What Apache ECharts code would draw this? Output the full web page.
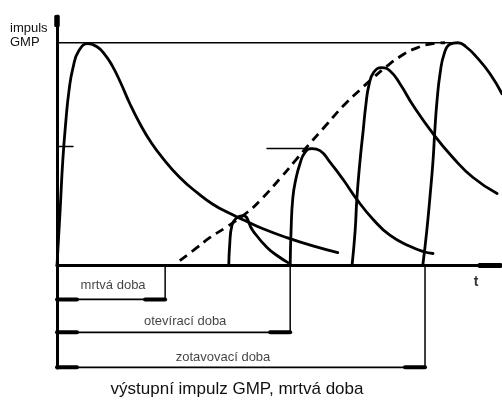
<!DOCTYPE html>
<html><head><meta charset="utf-8">
<script src="https://cdn.jsdelivr.net/npm/echarts@6/dist/echarts.min.js"></script>
<style>html,body{margin:0;padding:0;background:#fff}#c{width:502px;height:407px}</style>
</head><body><div id="c"></div>
<script>
// time t: 0..100 (relative units), amplitude: 0..100 (100 = full GMP pulse height)
const pulse1 = [[0,0],[0.7,24.7],[1.3,47.1],[2.0,65],[2.7,78.5],[3.6,88.8],[4.9,96.4],[7.0,99.6],[9.0,98.2],[10.8,94.6],[12.4,89.7],[14.2,82.5],[16.4,72.5],[18.7,63.4],[20.9,56.0],[23.8,48.1],[27.6,39.5],[31.5,32.7],[35.1,27.4],[38.9,23.3],[42.2,20.2],[46.3,16.5],[51.7,12.5],[57.5,8.8],[63.1,5.8]];
const pulse2 = [[38.6,0],[38.8,9.0],[39.3,18.0],[40.2,21.1],[41.8,22.4],[44.0,15.7],[47.2,8.1],[50.1,3.6],[51.9,1.3]];
const pulse3 = [[52.4,0],[52.6,15.7],[53.0,30.5],[53.7,39.0],[54.6,45.7],[55.7,50.7],[57.3,52.5],[59.1,51.6],[61.3,46.5],[64.3,38.6],[67.4,29.6],[71.0,20.8],[74.8,13.6],[79.3,8.6],[82.2,6.3],[84.5,5.4]];
const pulse4 = [[66.3,0],[67.0,15.7],[67.4,30.5],[68.1,47.1],[68.8,60.5],[69.4,72.0],[70.1,81.0],[71.2,86.8],[73.0,88.8],[74.8,87.4],[77.1,81.5],[80.0,71.9],[84.5,59.2],[89.0,48.4],[93.5,39.5],[98.9,32.3]];
const pulse5 = [[82.2,0],[83.1,15.7],[83.8,30.5],[84.5,47.1],[84.9,60.5],[85.4,74.0],[86.1,86.4],[87.0,95.0],[88.3,99.3],[90.1,100],[91.9,98.2],[94.4,93.3],[97.3,86.1],[100,77.1]];
const recovery = [[27.6,2.2],[31.5,8.1],[34.4,12.6],[38.2,17.4],[42.7,23.8],[45.6,29.1],[50.1,39.0],[53.5,47.0],[56.4,53.8],[60.7,63.5],[64.3,71.6],[68.1,78.9],[70.8,83.8],[74.2,89.6],[77.1,93.8],[80.0,97.0],[84.5,99.6],[87.2,100]];
const fullLevel = [[0,100],[90.6,100]];
const halfTick = [[0,53.4],[3.6,53.4]];
const pulse3Level = [[47.2,52.5],[57.3,52.5]];
// time intervals: name, end time, bracket level
const intervalNames = ['mrtvá doba','otevírací doba','zotavovací doba'];
const intervalEnds = [24.3, 52.4, 82.7];
const intervalLevels = [-15.2, -30.0, -45.7];
const intervalLabelPos = [[12.6,-8.75],[28.8,-24.9],[37.3,-41.1]];
const axisTimeLabel = ['t', 94.2, -7.4];

const K = '#000';
function line(data, w, extra) {
  return Object.assign({type:'line', data:data, symbol:'none', showSymbol:false, clip:false,
    lineStyle:{color:K, width:w, cap:'round', join:'round'}, silent:true, animation:false, z:3}, extra||{});
}
const series = [];
[pulse1,pulse2,pulse3,pulse4,pulse5].forEach(p => series.push(line(p, 2.8, {smooth:0.5})));
series.push(line(recovery, 2.8, {smooth:0.5, lineStyle:{color:K, width:2.8, type:[9,6]}}));
series.push(line(fullLevel, 1.5));
series.push(line(halfTick, 1.5));
series.push(line(pulse3Level, 1.5));
const head = 4.5;
intervalEnds.forEach((e,i) => {
  const lv = intervalLevels[i];
  series.push(line([[0,lv],[e,lv]], 1.8));
  series.push(line([[e,0],[e,lv]], 1.5));
  series.push(line([[0,lv],[head,lv]], 4));
  series.push(line([[e-head,lv],[e,lv]], 4));
});
series.push({type:'scatter', symbolSize:0.1, itemStyle:{color:'rgba(0,0,0,0)'}, silent:true, animation:false, clip:false,
  data: intervalNames.map((n,i)=>({name:n, value:intervalLabelPos[i]})),
  label:{show:true, position:'inside', formatter:'{b}', color:'#111', fontSize:13, fontFamily:'Liberation Sans'}});
series.push({type:'scatter', symbolSize:0.1, itemStyle:{color:'rgba(0,0,0,0)'}, silent:true, animation:false, clip:false,
  data:[{name:axisTimeLabel[0], value:[axisTimeLabel[1],axisTimeLabel[2]]}],
  label:{show:true, position:'inside', formatter:'{b}', color:'#000', fontSize:14, fontWeight:'bold', fontFamily:'Liberation Sans'}});

const chart = echarts.init(document.getElementById('c'), null, {renderer:'canvas'});
chart.setOption({
  backgroundColor:'#fff',
  animation:false,
  grid:{left:57, right:0, top:16, bottom:39},
  xAxis:{type:'value', min:0, max:100,
    axisLine:{onZero:true, lineStyle:{color:K, width:3}, symbol:['none','roundRect'], symbolSize:[5,24], symbolOffset:[0,-12]},
    axisTick:{show:false}, axisLabel:{show:false}, splitLine:{show:false}},
  yAxis:{type:'value', min:-46, max:112,
    axisLine:{onZero:true, lineStyle:{color:K, width:3}, symbol:['none','roundRect'], symbolSize:[5.5,12], symbolOffset:[0,-5]},
    axisTick:{show:false}, axisLabel:{show:false}, splitLine:{show:false}},
  title:{text:'výstupní impulz GMP, mrtvá doba', left:237, textAlign:'center', top:381, padding:0,
    textStyle:{fontSize:17, fontWeight:'normal', color:'#111', fontFamily:'Liberation Sans'}},
  graphic:[{type:'text', left:10, top:21, style:{text:'impuls\nGMP', font:'13px "Liberation Sans"', lineHeight:14, fill:'#111'}}],
  series: series
});
</script></body></html>
